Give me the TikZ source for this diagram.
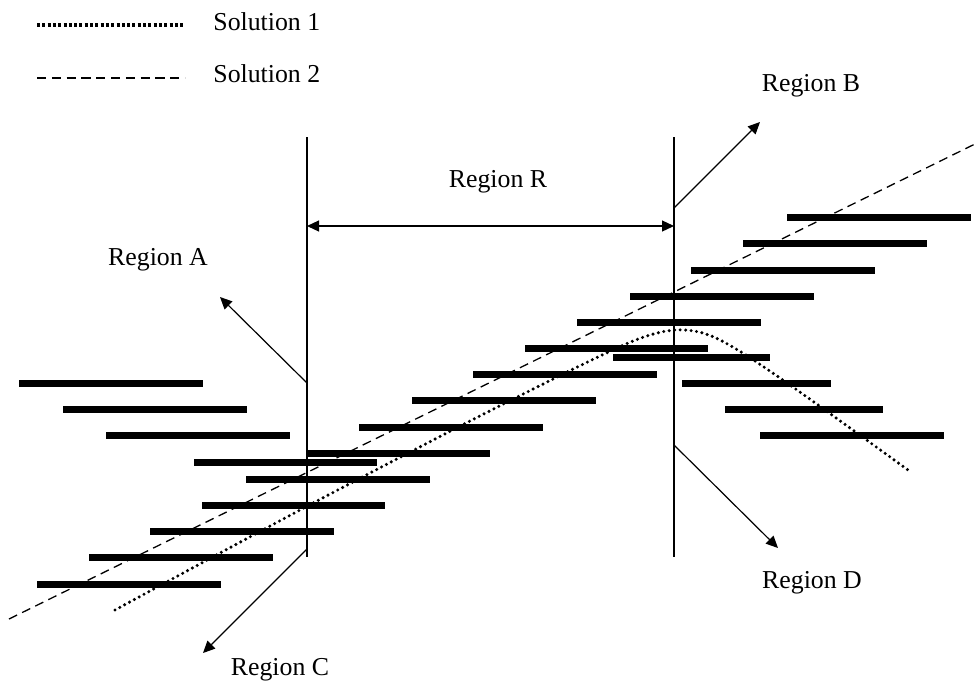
\documentclass[tikz,border=0pt]{standalone}
\usepackage{fontspec}
\setmainfont{Liberation Serif}
\usetikzlibrary{arrows.meta}
\begin{document}
\begin{tikzpicture}[x=0.5pt,y=-0.5pt,
  lbl/.style={font=\fontsize{12.9}{15}\selectfont, inner sep=0pt, anchor=base},
  bar/.style={line width=3.5pt, line cap=butt},
  thin/.style={line width=0.6pt},
  tip/.style={},
  arr/.style={thin, -{Triangle[length=6pt,width=5.5pt]}},
  solone/.style={line width=1.7pt, line cap=round, dash pattern=on 0pt off 2.75pt},
  soltwo/.style={line width=0.65pt, dash pattern=on 4.5pt off 2.8pt}]
\useasboundingbox (0,0) rectangle (977,681);
% legend
\coordinate (l1a) at (37,25); \coordinate (l1b) at (185,25);
\coordinate (l2a) at (37,78); \coordinate (l2b) at (185,78);
\draw[line width=1.6pt, dash pattern=on 1.5pt off 1.15pt] (l1a) -- (l1b);
\draw[line width=1.1pt, dash pattern=on 4.6pt off 2.8pt] (l2a) -- (l2b);
\node[lbl, anchor=base west] (s1) at (213,30) {Solution 1};
\node[lbl, anchor=base west] (s2) at (213,82) {Solution 2};
% vertical boundaries
\coordinate (vlt) at (307,137); \coordinate (vlb) at (307,557);
\coordinate (vrt) at (674,137); \coordinate (vrb) at (674,557);
\draw[thin] (vlt) -- (vlb);
\draw[thin] (vrt) -- (vrb);
% bars
\foreach \a/\b/\y in {19/203/383, 63/247/409, 106/290/435, 194/377/462, 246/430/479,
  202/385/505, 150/334/531, 89/273/557, 37/221/584,
  307/490/453, 359/543/427, 412/596/400, 473/657/374, 525/708/348, 577/761/322,
  630/814/296, 691/875/270, 743/927/243, 787/971/217,
  613/770/357, 682/831/383, 725/883/409, 760/944/435}
  \draw[bar] (\a,\y) -- (\b,\y);
% solution 2 (dashed)
\coordinate (d0) at (9,619); \coordinate (d1) at (977,143);
\draw[soltwo] (d0) -- (d1);
% solution 1 (dotted)
\draw[solone] plot[smooth, tension=0.55] coordinates {(115,610) (300,510) (470,421) (600,356) (650,335) (685,330) (720,340) (780,378) (908,470)};
% region arrows
\coordinate (aA0) at (307,383); \coordinate (aA1) at (220,297);
\coordinate (aB0) at (674,208); \coordinate (aB1) at (760,122);
\coordinate (aC0) at (307,549); \coordinate (aC1) at (203,653);
\coordinate (aD0) at (674,445); \coordinate (aD1) at (778,548);
\coordinate (rL) at (307,226); \coordinate (rR) at (674,226);
\draw[arr] (aA0) -- (aA1);
\draw[arr] (aB0) -- (aB1);
\draw[arr] (aC0) -- (aC1);
\draw[arr] (aD0) -- (aD1);
\draw[thin, {Triangle[length=6pt,width=5.5pt]}-{Triangle[length=6pt,width=5.5pt]}] (rL) -- (rR);
% labels
\node[lbl] (rA) at (158,265) {Region A};
\node[lbl] (rB) at (811,91) {Region B};
\node[lbl] (rC) at (280,675) {Region C};
\node[lbl] (rD) at (812,588) {Region D};
\node[lbl] (rRl) at (498,187) {Region R};
\end{tikzpicture}
\end{document}
